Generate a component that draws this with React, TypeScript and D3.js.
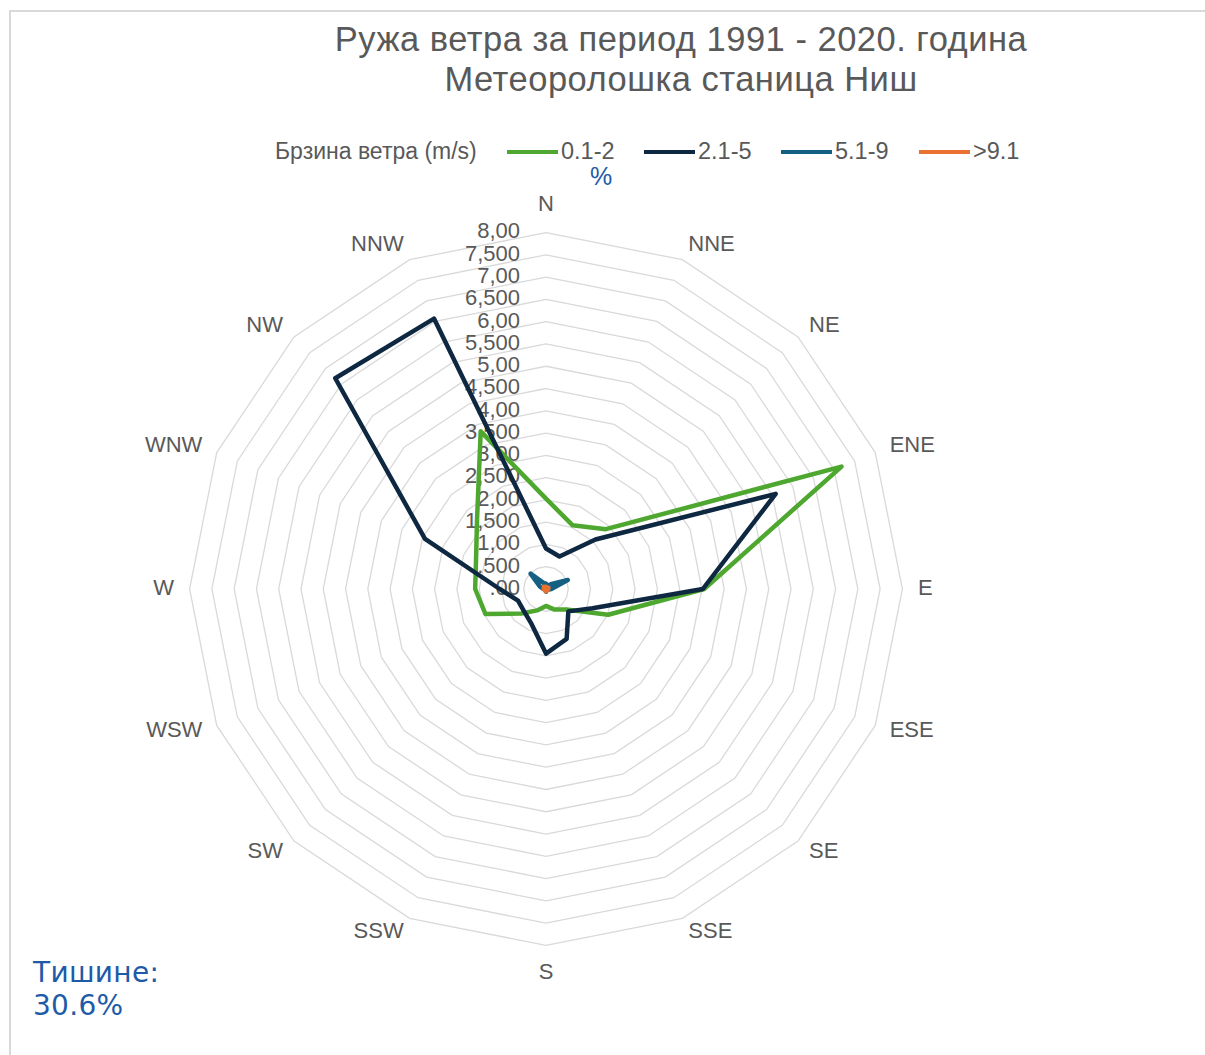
import * as d3 from 'd3';

// wind directions, clockwise from north
const directions = ['N', 'NNE', 'NE', 'ENE', 'E', 'ESE', 'SE', 'SSE', 'S', 'SSW', 'SW', 'WSW', 'W', 'WNW', 'NW', 'NNW'];

// frequency (%) per direction for each speed class
const speed0to2 = [2.03, 1.55, 1.9, 7.18, 3.55, 1.51, 0.65, 0.5, 0.38, 0.52, 0.78, 1.47, 1.59, 1.7, 2.19, 3.83];
const speed2to5 = [0.91, 0.79, 1.57, 5.58, 3.52, 1.13, 0.71, 1.21, 1.45, 0.85, 0.7, 0.68, 1.04, 2.94, 6.69, 6.57];
const speed5to9 = [0.12, 0.08, 0.15, 0.53, 0.12, 0.04, 0.03, 0.03, 0.06, 0.03, 0.03, 0.03, 0.06, 0.15, 0.49, 0.15];
const speedOver9 = [0.05, 0.04, 0.05, 0.06, 0.05, 0.04, 0.04, 0.04, 0.05, 0.04, 0.04, 0.04, 0.05, 0.05, 0.07, 0.05];

const seriesNames = ['0.1-2', '2.1-5', '5.1-9', '>9.1'];
const seriesColors = ['#4ea72e', '#0e2841', '#156082', '#e97132'];

const tickValues = [0, 0.5, 1, 1.5, 2, 2.5, 3, 3.5, 4, 4.5, 5, 5.5, 6, 6.5, 7, 7.5, 8];
const tickLabels = ['.00', '.500', '1,00', '1,500', '2,00', '2,500', '3,00', '3,500', '4,00', '4,500', '5,00', '5,500', '6,00', '6,500', '7,00', '7,500', '8,00'];

const titleLines = ['Ружа ветра за период 1991 - 2020. година', 'Метеоролошка станица Ниш'];
const legendTitle = 'Брзина ветра (m/s)';
const calmLines = ['Тишине:', '30.6%'];

const W = 1205;
const H = 1055;
const cx = 546;
const cy = 589;
const FONT = '"Liberation Sans", Arial, sans-serif';
const GRAY = '#595959';

export default function App() {
  const series = [speed0to2, speed2to5, speed5to9, speedOver9];
  const r = d3.scaleLinear().domain([0, 8]).range([0, 356.4]);
  const ang = d3.scaleLinear().domain([0, directions.length]).range([0, 2 * Math.PI]);

  const line = d3
    .lineRadial<number>()
    .angle((_, i) => ang(i))
    .radius(d => r(d))
    .curve(d3.curveLinearClosed);

  const ring = (v: number) => line(directions.map(() => v)) as string;

  const legendX = [507, 644, 781, 919];

  return (
    <svg
      width={W}
      height={H}
      style={{ position: 'absolute', left: 0, top: 0, display: 'block', background: '#fff' }}
      fontFamily={FONT}
    >
      <rect x={10} y={11} width={1200} height={1060} fill="#fff" stroke="#d9d9d9" strokeWidth={2} />

      {titleLines.map((t, i) => (
        <text key={t} x={681} y={42 + i * 40} textAnchor="middle" dominantBaseline="middle" fontSize={34.5} letterSpacing={0.5} fill={GRAY}>
          {t}
        </text>
      ))}

      <text x={275} y={153} dominantBaseline="middle" fontSize={23} fill={GRAY}>{legendTitle}</text>
      {seriesNames.map((n, i) => (
        <g key={n}>
          <line x1={legendX[i]} x2={legendX[i] + 51} y1={152} y2={152} stroke={seriesColors[i]} strokeWidth={4} />
          <text x={legendX[i] + 54} y={153} dominantBaseline="middle" fontSize={23.5} fill={GRAY}>{n}</text>
        </g>
      ))}
      <text x={601} y={178} textAnchor="middle" dominantBaseline="middle" fontSize={25} fill="#1e5aa8">%</text>

      <g transform={`translate(${cx},${cy})`}>
        {tickValues.slice(1).map(v => (
          <path key={v} d={ring(v)} fill="none" stroke="#d9d9d9" strokeWidth={1.3} />
        ))}
        {tickValues.map((v, i) => (
          <text key={v} x={-26} y={-r(v)} textAnchor="end" dominantBaseline="middle" fontSize={22} fill={GRAY}>
            {tickLabels[i]}
          </text>
        ))}
        {directions.map((d, i) => {
          const a = ang(i);
          const s = Math.sin(a);
          const c = Math.cos(a);
          const vertical = Math.abs(s) < 0.01;
          const rr = vertical ? 384 : 372;
          return (
            <text
              key={d}
              x={s * rr}
              y={-c * rr}
              textAnchor={vertical ? 'middle' : s > 0 ? 'start' : 'end'}
              dominantBaseline="middle"
              fontSize={22}
              fill={GRAY}
            >
              {d}
            </text>
          );
        })}
        {series.map((s, i) => (
          <path key={i} d={line(s) as string} fill="none" stroke={seriesColors[i]} strokeWidth={4.5} strokeLinejoin="round" />
        ))}
      </g>

      {calmLines.map((t, i) => (
        <text key={t} x={33} y={974 + i * 33} dominantBaseline="middle" fontSize={28} letterSpacing={0.3} fill="#1e5aa8" fontFamily='"DejaVu Sans", sans-serif'>
          {t}
        </text>
      ))}
    </svg>
  );
}
